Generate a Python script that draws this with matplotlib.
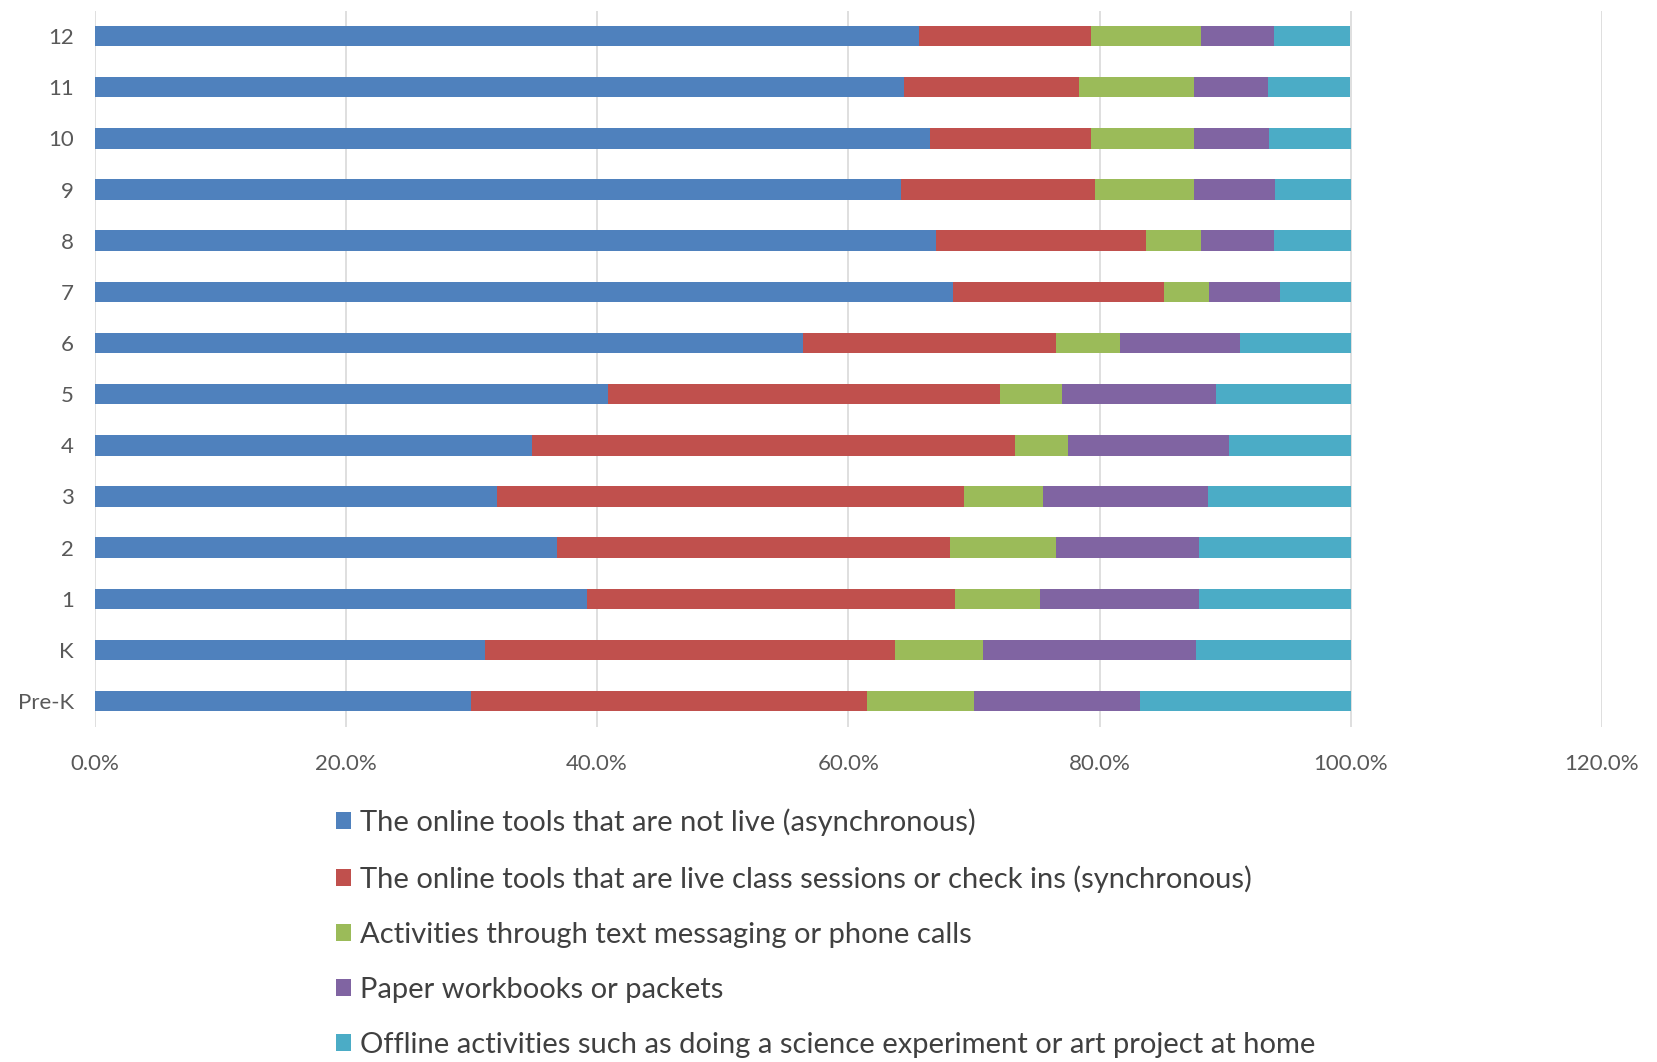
import numpy as np
import matplotlib.pyplot as plt
from matplotlib.ticker import FuncFormatter

plt.rcParams['font.family'] = ['Lato', 'DejaVu Sans']

grades = ['Pre-K', 'K', '1', '2', '3', '4', '5', '6', '7', '8', '9', '10', '11', '12']

# share of each learning mode per grade (%), bottom row first
not_live = [30.0, 31.1, 39.2, 36.8, 32.0, 34.8, 40.9, 56.4, 68.3, 67.0, 64.2, 66.5, 64.4, 65.6]
live = [31.5, 32.6, 29.3, 31.3, 37.2, 38.5, 31.2, 20.1, 16.8, 16.7, 15.4, 12.8, 14.0, 13.7]
text_phone = [8.5, 7.0, 6.8, 8.4, 6.3, 4.2, 4.9, 5.1, 3.6, 4.4, 7.9, 8.2, 9.1, 8.8]
paper = [13.2, 17.0, 12.6, 11.4, 13.1, 12.8, 12.3, 9.6, 5.7, 5.8, 6.5, 6.0, 5.9, 5.8]
offline = [16.8, 12.3, 12.1, 12.1, 11.4, 9.7, 10.7, 8.8, 5.6, 6.1, 6.0, 6.5, 6.5, 6.0]

labels = [
    'The online tools that are not live (asynchronous)',
    'The online tools that are live class sessions or check ins (synchronous)',
    'Activities through text messaging or phone calls',
    'Paper workbooks or packets',
    'Offline activities such as doing a science experiment or art project at home',
]
colors = ['#4F81BD', '#C0504D', '#9BBB59', '#8064A2', '#4BACC6']

fig = plt.figure(figsize=(16.57, 10.62), dpi=100)
ax = fig.add_axes([0.0571, 0.3158, 0.9097, 0.6743])

y = np.arange(len(grades))
left = np.zeros(len(grades))
for vals, lab, col in zip([not_live, live, text_phone, paper, offline], labels, colors):
    v = np.array(vals) / 100
    ax.barh(y, v, left=left, height=0.4, color=col, label=lab, zorder=2)
    left += v

ax.set_xlim(0, 1.2)
ax.set_ylim(-0.5, len(grades) - 0.5)
ax.set_xticks(np.arange(0, 1.21, 0.2))
ax.xaxis.set_major_formatter(FuncFormatter(lambda v, p: f'{v*100:.1f}%'))
ax.set_yticks(y)
ax.set_yticklabels(grades)
ax.grid(axis='x', color='#D9D9D9', linewidth=1.2, zorder=0)
for s in ax.spines.values():
    s.set_visible(False)
ax.tick_params(axis='both', length=0, labelsize=16, colors='#595959')
ax.tick_params(axis='x', pad=20)
ax.tick_params(axis='y', pad=15)

handles, labs = ax.get_legend_handles_labels()
fig.legend(handles, labs, loc='upper left', bbox_to_anchor=(0.203, 0.239),
           frameon=False, fontsize=21, labelcolor='#404040',
           handlelength=0.5, handleheight=0.5, handletextpad=0.3,
           labelspacing=1.0, borderpad=0, borderaxespad=0)

fig.savefig('out.png', dpi=100, facecolor='white')
